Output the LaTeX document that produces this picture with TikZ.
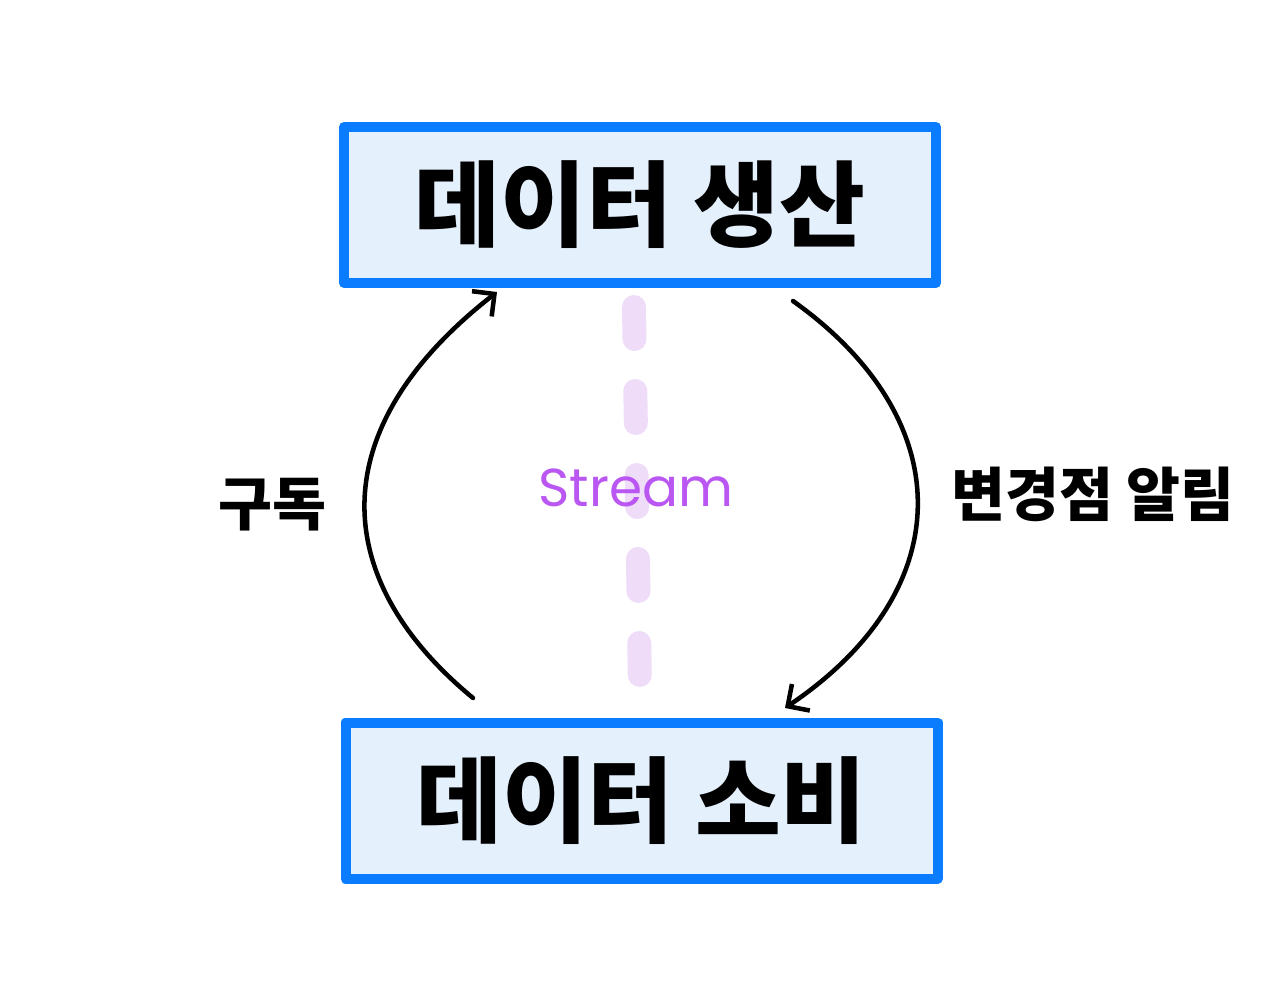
\documentclass[tikz,border=0pt]{standalone}
\usepackage{fontspec}
\newfontfamily\kr{Noto Sans CJK KR}
\newfontfamily\streamfont{Poppins}
\usetikzlibrary{arrows.meta}
\definecolor{boxblue}{HTML}{0A7CFF}
\definecolor{boxfill}{HTML}{E5F0FD}
\definecolor{streamfill}{HTML}{EEDCF9}
\definecolor{streamtext}{HTML}{BA56F2}
\tikzset{
  box/.style={draw=boxblue, fill=boxfill, line width=7.5pt, line join=round},
  boxtext/.style={font=\kr\bfseries\fontsize{70}{78}\selectfont, text=black},
  flow/.style={draw=black, line width=3.4pt, line cap=round, -{Straight Barb[length=12pt,width=24pt,line width=3.4pt]}},
  lbl/.style={font=\kr\bfseries\fontsize{44}{50}\selectfont, text=black},
}
\begin{document}
\begin{tikzpicture}[x=0.75pt,y=-0.75pt]
\useasboundingbox (0,0) rectangle (1282,1000);
% stream dashed line
\draw[streamfill, line width=18pt, line cap=round, dash pattern=on 24pt off 39pt] (634,307) -- (640,690);
\node[font=\streamfont\fontsize{40}{44}\selectfont, text=streamtext] (stream) at (636,488) {Stream};
% boxes
\node[box, boxtext, minimum width=444pt, minimum height=117pt, inner sep=0] (prod) at (640,205) {데이터 생산};
\node[box, boxtext, minimum width=444pt, minimum height=117pt, inner sep=0] (cons) at (641.5,800.5) {데이터 소비};
% connectors
\coordinate (l0) at (473,698);
\coordinate (l1) at (497,292);
\coordinate (r0) at (793,301);
\coordinate (r1) at (785,708);
\draw[flow] (l0) .. controls (330,580) and (320,430) .. (l1);
\draw[flow] (r0) .. controls (960,420) and (960,590) .. (r1);
\node[lbl] (sub) at (272,505) {구독};
\node[lbl] (notify) at (1093,494) {변경점 알림};
\end{tikzpicture}
\end{document}
